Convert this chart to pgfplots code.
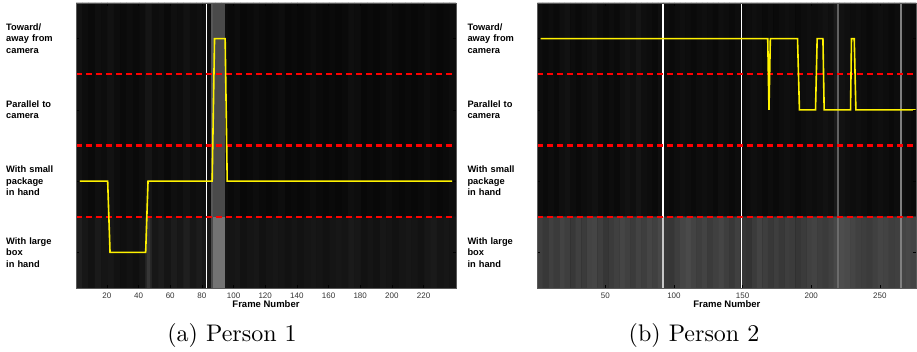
\documentclass[border=0pt]{standalone}
\usepackage{pgfplots}
\pgfplotsset{compat=1.18}
\usepackage{fontspec}
\newfontfamily\lab{Liberation Sans}
\newfontfamily\capfont{lmroman10-regular}[Extension=.otf]

\pgfplotsset{
  panel/.style={
    scale only axis, height=285pt,
    ymin=0.5, ymax=4.5, y dir=reverse,
    enlargelimits=false, axis on top,
    axis background/.style={fill=black},
    colormap/blackwhite,
    point meta min=0, point meta max=100,
    ytick={1,2,3,4},
    yticklabels={{Toward/\\away from\\camera},{Parallel to\\camera},{With small\\package\\in hand},{With large\\box\\in hand}},
    yticklabel style={anchor=west, xshift=-70pt, align=left, text width=66pt, inner sep=0pt,
      font=\lab\bfseries\fontsize{9.3}{11.5}\selectfont},
    xticklabel style={font=\lab\fontsize{8}{9}\selectfont, text=black!80, yshift=-1.5pt},
    /pgf/number format/assume math mode=true,
    xlabel={Frame Number},
    xlabel style={at={(axis description cs:0.5,0)}, anchor=base, yshift=-20pt, inner sep=0pt,
      font=\lab\bfseries\fontsize{9.5}{11}\selectfont},
    tick style={black, line width=0.5pt},
    major tick length=3pt,
    axis line style={draw=black!65, line width=0.7pt},
  },
  sep/.style={red, line width=2.2pt, dash pattern=on 5.5pt off 4.5pt},
  traj/.style={yellow, line width=1.6pt, line join=miter},
}

\begin{document}
\begin{tikzpicture}
\useasboundingbox (0,0) rectangle (917pt,352pt);

% ---------------- (a) Person 1 ----------------
\begin{axis}[panel, at={(76pt,64pt)}, anchor=south west, width=380pt,
  xmin=0.5, xmax=240.5, xtick={20,40,...,220}]
\addplot[matrix plot*, mesh/cols=60, point meta=explicit] coordinates {
(2.5,1)[7] (6.5,1)[5] (10.5,1)[4] (14.5,1)[6] (18.5,1)[5] (22.5,1)[7] (26.5,1)[5] (30.5,1)[4] (34.5,1)[5] (38.5,1)[4] (42.5,1)[5] (46.5,1)[8] (50.5,1)[5] (54.5,1)[6] (58.5,1)[4] (62.5,1)[6] (66.5,1)[5] (70.5,1)[7] (74.5,1)[5] (78.5,1)[6] (82.5,1)[5] (86.5,1)[5] (90.5,1)[5] (94.5,1)[5] (98.5,1)[4] (102.5,1)[5] (106.5,1)[3] (110.5,1)[4] (114.5,1)[5] (118.5,1)[4] (122.5,1)[3] (126.5,1)[4] (130.5,1)[5] (134.5,1)[3] (138.5,1)[4] (142.5,1)[3] (146.5,1)[4] (150.5,1)[5] (154.5,1)[4] (158.5,1)[3] (162.5,1)[4] (166.5,1)[3] (170.5,1)[4] (174.5,1)[6] (178.5,1)[5] (182.5,1)[3] (186.5,1)[4] (190.5,1)[3] (194.5,1)[4] (198.5,1)[5] (202.5,1)[4] (206.5,1)[3] (210.5,1)[4] (214.5,1)[3] (218.5,1)[4] (222.5,1)[5] (226.5,1)[4] (230.5,1)[3] (234.5,1)[4] (238.5,1)[5]
(2.5,2)[7] (6.5,2)[5] (10.5,2)[4] (14.5,2)[6] (18.5,2)[5] (22.5,2)[7] (26.5,2)[5] (30.5,2)[4] (34.5,2)[5] (38.5,2)[4] (42.5,2)[5] (46.5,2)[8] (50.5,2)[5] (54.5,2)[6] (58.5,2)[4] (62.5,2)[6] (66.5,2)[5] (70.5,2)[7] (74.5,2)[5] (78.5,2)[6] (82.5,2)[5] (86.5,2)[5] (90.5,2)[5] (94.5,2)[5] (98.5,2)[4] (102.5,2)[5] (106.5,2)[3] (110.5,2)[4] (114.5,2)[5] (118.5,2)[4] (122.5,2)[3] (126.5,2)[4] (130.5,2)[5] (134.5,2)[3] (138.5,2)[4] (142.5,2)[3] (146.5,2)[4] (150.5,2)[5] (154.5,2)[4] (158.5,2)[3] (162.5,2)[4] (166.5,2)[3] (170.5,2)[4] (174.5,2)[6] (178.5,2)[5] (182.5,2)[3] (186.5,2)[4] (190.5,2)[3] (194.5,2)[4] (198.5,2)[5] (202.5,2)[4] (206.5,2)[3] (210.5,2)[4] (214.5,2)[3] (218.5,2)[4] (222.5,2)[5] (226.5,2)[4] (230.5,2)[3] (234.5,2)[4] (238.5,2)[5]
(2.5,3)[7] (6.5,3)[5] (10.5,3)[4] (14.5,3)[6] (18.5,3)[5] (22.5,3)[7] (26.5,3)[5] (30.5,3)[4] (34.5,3)[5] (38.5,3)[4] (42.5,3)[5] (46.5,3)[8] (50.5,3)[5] (54.5,3)[6] (58.5,3)[4] (62.5,3)[6] (66.5,3)[5] (70.5,3)[7] (74.5,3)[5] (78.5,3)[6] (82.5,3)[5] (86.5,3)[5] (90.5,3)[5] (94.5,3)[5] (98.5,3)[4] (102.5,3)[5] (106.5,3)[3] (110.5,3)[4] (114.5,3)[5] (118.5,3)[4] (122.5,3)[3] (126.5,3)[4] (130.5,3)[5] (134.5,3)[3] (138.5,3)[4] (142.5,3)[3] (146.5,3)[4] (150.5,3)[5] (154.5,3)[4] (158.5,3)[3] (162.5,3)[4] (166.5,3)[3] (170.5,3)[4] (174.5,3)[6] (178.5,3)[5] (182.5,3)[3] (186.5,3)[4] (190.5,3)[3] (194.5,3)[4] (198.5,3)[5] (202.5,3)[4] (206.5,3)[3] (210.5,3)[4] (214.5,3)[3] (218.5,3)[4] (222.5,3)[5] (226.5,3)[4] (230.5,3)[3] (234.5,3)[4] (238.5,3)[5]
(2.5,4)[12] (6.5,4)[9] (10.5,4)[7] (14.5,4)[10] (18.5,4)[8] (22.5,4)[9] (26.5,4)[7] (30.5,4)[6] (34.5,4)[7] (38.5,4)[6] (42.5,4)[8] (46.5,4)[15] (50.5,4)[9] (54.5,4)[11] (58.5,4)[8] (62.5,4)[11] (66.5,4)[9] (70.5,4)[12] (74.5,4)[9] (78.5,4)[11] (82.5,4)[9] (86.5,4)[9] (90.5,4)[9] (94.5,4)[9] (98.5,4)[8] (102.5,4)[9] (106.5,4)[7] (110.5,4)[8] (114.5,4)[9] (118.5,4)[7] (122.5,4)[8] (126.5,4)[9] (130.5,4)[8] (134.5,4)[7] (138.5,4)[8] (142.5,4)[7] (146.5,4)[8] (150.5,4)[9] (154.5,4)[8] (158.5,4)[7] (162.5,4)[8] (166.5,4)[9] (170.5,4)[8] (174.5,4)[10] (178.5,4)[9] (182.5,4)[7] (186.5,4)[8] (190.5,4)[7] (194.5,4)[9] (198.5,4)[8] (202.5,4)[7] (206.5,4)[8] (210.5,4)[9] (214.5,4)[8] (218.5,4)[7] (222.5,4)[9] (226.5,4)[10] (230.5,4)[8] (234.5,4)[9] (238.5,4)[8]
};
% bright frames
\addplot[fill=white!34!black, draw=none] coordinates {(85.5,0.5) (87,0.5) (87,3.5) (85.5,3.5)};
\addplot[fill=white!29!black, draw=none] coordinates {(87,0.5) (94.5,0.5) (94.5,3.5) (87,3.5)};
\addplot[fill=white!30!black, draw=none] coordinates {(85.5,3.5) (87,3.5) (87,4.5) (85.5,4.5)};
\addplot[fill=white!45!black, draw=none] coordinates {(87,3.5) (94.5,3.5) (94.5,4.5) (87,4.5)};
\addplot[fill=white!21!black, draw=none] coordinates {(45.5,3.5) (47.5,3.5) (47.5,4.5) (45.5,4.5)};
\addplot[fill=white, draw=none] coordinates {(82.4,0.5) (83.3,0.5) (83.3,4.5) (82.4,4.5)};
% class separators
\addplot[sep] coordinates {(0.5,1.5) (240.5,1.5)};
\addplot[sep] coordinates {(0.5,2.5) (240.5,2.5)};
\addplot[sep] coordinates {(0.5,3.5) (240.5,3.5)};
% predicted class
\addplot[traj] coordinates {(3,3) (20.5,3) (22,4) (44.5,4) (46,3) (86.5,3) (88,1) (94.7,1) (96,3) (238,3)};
\end{axis}

% ---------------- (b) Person 2 ----------------
\begin{axis}[panel, at={(537.3pt,64pt)}, anchor=south west, width=379pt,
  xmin=0.5, xmax=276.5, xtick={50,100,...,250}]
\addplot[matrix plot*, mesh/cols=69, point meta=explicit] coordinates {
(2.5,1)[5] (6.5,1)[4] (10.5,1)[5] (14.5,1)[4] (18.5,1)[6] (22.5,1)[7] (26.5,1)[5] (30.5,1)[4] (34.5,1)[5] (38.5,1)[6] (42.5,1)[7] (46.5,1)[5] (50.5,1)[4] (54.5,1)[5] (58.5,1)[4] (62.5,1)[6] (66.5,1)[7] (70.5,1)[6] (74.5,1)[8] (78.5,1)[6] (82.5,1)[5] (86.5,1)[4] (90.5,1)[6] (94.5,1)[5] (98.5,1)[4] (102.5,1)[5] (106.5,1)[6] (110.5,1)[5] (114.5,1)[4] (118.5,1)[5] (122.5,1)[6] (126.5,1)[5] (130.5,1)[4] (134.5,1)[6] (138.5,1)[5] (142.5,1)[4] (146.5,1)[5] (150.5,1)[4] (154.5,1)[5] (158.5,1)[6] (162.5,1)[5] (166.5,1)[4] (170.5,1)[5] (174.5,1)[4] (178.5,1)[5] (182.5,1)[6] (186.5,1)[5] (190.5,1)[4] (194.5,1)[5] (198.5,1)[6] (202.5,1)[5] (206.5,1)[6] (210.5,1)[7] (214.5,1)[6] (218.5,1)[10] (222.5,1)[7] (226.5,1)[6] (230.5,1)[5] (234.5,1)[6] (238.5,1)[5] (242.5,1)[4] (246.5,1)[5] (250.5,1)[6] (254.5,1)[5] (258.5,1)[4] (262.5,1)[5] (266.5,1)[6] (270.5,1)[5] (274.5,1)[4]
(2.5,2)[5] (6.5,2)[4] (10.5,2)[5] (14.5,2)[4] (18.5,2)[6] (22.5,2)[7] (26.5,2)[5] (30.5,2)[4] (34.5,2)[5] (38.5,2)[6] (42.5,2)[7] (46.5,2)[5] (50.5,2)[4] (54.5,2)[5] (58.5,2)[4] (62.5,2)[6] (66.5,2)[7] (70.5,2)[6] (74.5,2)[8] (78.5,2)[6] (82.5,2)[5] (86.5,2)[4] (90.5,2)[6] (94.5,2)[5] (98.5,2)[4] (102.5,2)[5] (106.5,2)[6] (110.5,2)[5] (114.5,2)[4] (118.5,2)[5] (122.5,2)[6] (126.5,2)[5] (130.5,2)[4] (134.5,2)[6] (138.5,2)[5] (142.5,2)[4] (146.5,2)[5] (150.5,2)[4] (154.5,2)[5] (158.5,2)[6] (162.5,2)[5] (166.5,2)[4] (170.5,2)[5] (174.5,2)[4] (178.5,2)[5] (182.5,2)[6] (186.5,2)[5] (190.5,2)[4] (194.5,2)[5] (198.5,2)[6] (202.5,2)[5] (206.5,2)[6] (210.5,2)[7] (214.5,2)[6] (218.5,2)[10] (222.5,2)[7] (226.5,2)[6] (230.5,2)[5] (234.5,2)[6] (238.5,2)[5] (242.5,2)[4] (246.5,2)[5] (250.5,2)[6] (254.5,2)[5] (258.5,2)[4] (262.5,2)[5] (266.5,2)[6] (270.5,2)[5] (274.5,2)[4]
(2.5,3)[5] (6.5,3)[4] (10.5,3)[5] (14.5,3)[4] (18.5,3)[6] (22.5,3)[7] (26.5,3)[5] (30.5,3)[4] (34.5,3)[5] (38.5,3)[6] (42.5,3)[7] (46.5,3)[5] (50.5,3)[4] (54.5,3)[5] (58.5,3)[4] (62.5,3)[6] (66.5,3)[7] (70.5,3)[6] (74.5,3)[8] (78.5,3)[6] (82.5,3)[5] (86.5,3)[4] (90.5,3)[6] (94.5,3)[5] (98.5,3)[4] (102.5,3)[5] (106.5,3)[6] (110.5,3)[5] (114.5,3)[4] (118.5,3)[5] (122.5,3)[6] (126.5,3)[5] (130.5,3)[4] (134.5,3)[6] (138.5,3)[5] (142.5,3)[4] (146.5,3)[5] (150.5,3)[4] (154.5,3)[5] (158.5,3)[6] (162.5,3)[5] (166.5,3)[4] (170.5,3)[5] (174.5,3)[4] (178.5,3)[5] (182.5,3)[6] (186.5,3)[5] (190.5,3)[4] (194.5,3)[5] (198.5,3)[6] (202.5,3)[5] (206.5,3)[6] (210.5,3)[7] (214.5,3)[6] (218.5,3)[10] (222.5,3)[7] (226.5,3)[6] (230.5,3)[5] (234.5,3)[6] (238.5,3)[5] (242.5,3)[4] (246.5,3)[5] (250.5,3)[6] (254.5,3)[5] (258.5,3)[4] (262.5,3)[5] (266.5,3)[6] (270.5,3)[5] (274.5,3)[4]
(2.5,4)[24] (6.5,4)[22] (10.5,4)[25] (14.5,4)[23] (18.5,4)[26] (22.5,4)[24] (26.5,4)[22] (30.5,4)[25] (34.5,4)[23] (38.5,4)[26] (42.5,4)[27] (46.5,4)[24] (50.5,4)[21] (54.5,4)[23] (58.5,4)[25] (62.5,4)[27] (66.5,4)[25] (70.5,4)[23] (74.5,4)[26] (78.5,4)[24] (82.5,4)[27] (86.5,4)[25] (90.5,4)[28] (94.5,4)[22] (98.5,4)[21] (102.5,4)[24] (106.5,4)[27] (110.5,4)[29] (114.5,4)[26] (118.5,4)[24] (122.5,4)[26] (126.5,4)[23] (130.5,4)[25] (134.5,4)[27] (138.5,4)[24] (142.5,4)[22] (146.5,4)[25] (150.5,4)[21] (154.5,4)[20] (158.5,4)[23] (162.5,4)[26] (166.5,4)[24] (170.5,4)[22] (174.5,4)[24] (178.5,4)[22] (182.5,4)[24] (186.5,4)[23] (190.5,4)[21] (194.5,4)[23] (198.5,4)[25] (202.5,4)[26] (206.5,4)[24] (210.5,4)[23] (214.5,4)[25] (218.5,4)[28] (222.5,4)[30] (226.5,4)[29] (230.5,4)[27] (234.5,4)[25] (238.5,4)[24] (242.5,4)[23] (246.5,4)[25] (250.5,4)[27] (254.5,4)[26] (258.5,4)[24] (262.5,4)[25] (266.5,4)[27] (270.5,4)[28] (274.5,4)[26]
};
\addplot[fill=white, draw=none] coordinates {(91.5,0.5) (92.4,0.5) (92.4,3.5) (91.5,3.5)};
\addplot[fill=white!78!black, draw=none] coordinates {(91.5,3.5) (92.4,3.5) (92.4,4.5) (91.5,4.5)};
\addplot[fill=white, draw=none] coordinates {(148.6,0.5) (149.4,0.5) (149.4,4.5) (148.6,4.5)};
\addplot[fill=white!38!black, draw=none] coordinates {(218.5,0.5) (220,0.5) (220,3.5) (218.5,3.5)};
\addplot[fill=white!42!black, draw=none] coordinates {(218.5,3.5) (220,3.5) (220,4.5) (218.5,4.5)};
\addplot[fill=white!50!black, draw=none] coordinates {(264.6,0.5) (266,0.5) (266,4.5) (264.6,4.5)};
\addplot[sep] coordinates {(0.5,1.5) (276.5,1.5)};
\addplot[sep] coordinates {(0.5,2.5) (276.5,2.5)};
\addplot[sep] coordinates {(0.5,3.5) (276.5,3.5)};
\addplot[traj] coordinates {(3,1) (168.3,1) (169.2,2) (170.2,1) (190,1) (191.4,2) (203.1,2) (204.3,1) (208.5,1) (209.4,2) (228.6,2) (229.3,1) (231.3,1) (232.5,2) (276,2)};
\end{axis}

\node[anchor=base, font=\capfont\fontsize{24}{28}\selectfont] at (232pt,10pt) {(a) Person 1};
\node[anchor=base, font=\capfont\fontsize{24}{28}\selectfont] at (694pt,10pt) {(b) Person 2};
\end{tikzpicture}
\end{document}
